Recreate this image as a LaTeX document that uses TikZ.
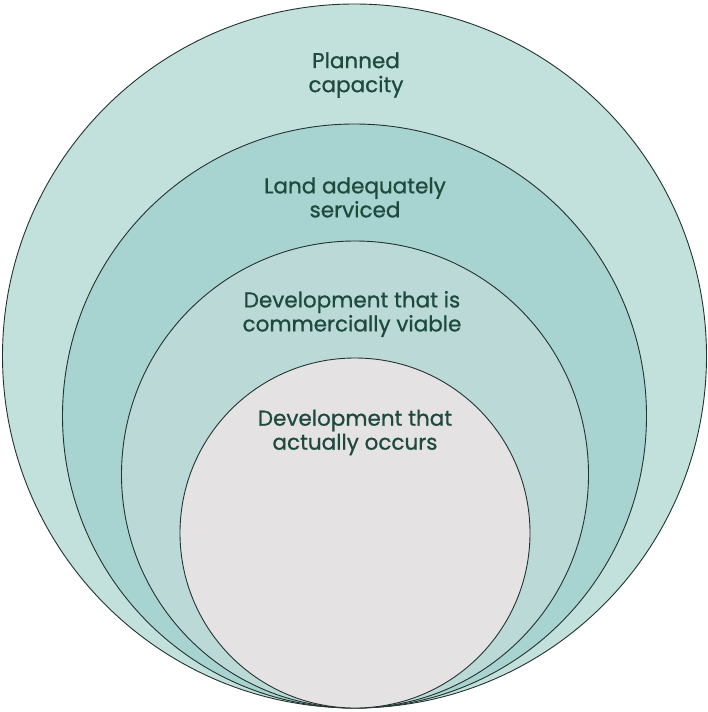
\documentclass[tikz,border=0pt]{standalone}
\usepackage{fontspec}
\setmainfont{Poppins}
\newfontfamily\lblfont{Poppins}[FakeBold=0.8]
\definecolor{ringA}{HTML}{C3E1DC}
\definecolor{ringB}{HTML}{A7D3D0}
\definecolor{ringC}{HTML}{BAD9D7}
\definecolor{ringD}{HTML}{E5E2E3}
\definecolor{txt}{HTML}{1E4A3E}
\definecolor{edge}{HTML}{24332F}
\begin{document}
\begin{tikzpicture}[x=1pt,y=-1pt,
  ring/.style={draw=edge,line width=0.9pt},
  lbl/.style={text=txt,font=\lblfont\fontsize{21.5}{24}\selectfont,align=center,inner sep=0pt}]
\useasboundingbox (0,0) rectangle (708,712);
\fill[white] (0,0) rectangle (708,712);
\path[ring,fill=ringA] (354.5,356) circle[radius=352];
\path[ring,fill=ringB] (354.5,416) circle[radius=292];
\path[ring,fill=ringC] (355,474.5) circle[radius=233.5];
\path[ring,fill=ringD] (355,533) circle[radius=175];
\node[lbl] (l1) at (356,75) {Planned\\capacity};
\node[lbl] (l2) at (355,197.5) {Land adequately\\serviced};
\node[lbl] (l3) at (352,314) {Development that is\\commercially viable};
\node[lbl] (l4) at (355,432.5) {Development that\\actually occurs};
\end{tikzpicture}
\end{document}
